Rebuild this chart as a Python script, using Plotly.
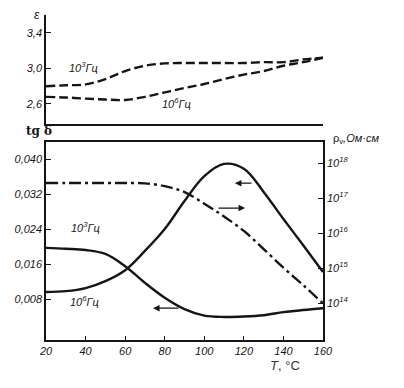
import plotly.graph_objects as go

# ---- data ----
T = [20, 30, 40, 50, 60, 70, 80, 90, 100, 110, 120, 130, 140, 150, 160]

eps_1e3 = [2.80, 2.81, 2.82, 2.88, 2.97, 3.03, 3.056, 3.06, 3.06, 3.06, 3.06, 3.07, 3.07, 3.10, 3.12]
eps_1e6 = [2.68, 2.673, 2.66, 2.65, 2.645, 2.68, 2.73, 2.78, 2.825, 2.88, 2.93, 2.97, 3.03, 3.07, 3.12]

tg_1e3 = [0.0197, 0.0195, 0.0192, 0.0183, 0.0155, 0.0117, 0.0083, 0.0057, 0.0042, 0.0039, 0.0040, 0.0043, 0.0050, 0.0055, 0.0059]
tg_1e6 = [0.0096, 0.0098, 0.0105, 0.0121, 0.0146, 0.0190, 0.0240, 0.0304, 0.0361, 0.0389, 0.0378, 0.0325, 0.0263, 0.0203, 0.0142]

log_rho = [17.43, 17.43, 17.43, 17.43, 17.43, 17.42, 17.34, 17.17, 16.84, 16.47, 16.06, 15.54, 15.01, 14.51, 13.99]
rho = [10 ** v for v in log_rho]

eps_ticks = [2.6, 3.0, 3.4]
eps_labels = ["2,6", "3,0", "3,4"]
tg_ticks = [0.008, 0.016, 0.024, 0.032, 0.040]
tg_labels = ["0,008", "0,016", "0,024", "0,032", "0,040"]
rho_ticks = [1e14, 1e15, 1e16, 1e17, 1e18]
rho_labels = ["10<sup>14</sup>", "10<sup>15</sup>", "10<sup>16</sup>", "10<sup>17</sup>", "10<sup>18</sup>"]
T_ticks = [20, 40, 60, 80, 100, 120, 140, 160]

INK = "#151515"
FONT = "Liberation Sans"
W = 2.4

fig = go.Figure()
fig.add_trace(go.Scatter(x=T, y=eps_1e3, xaxis="x2", yaxis="y3", mode="lines",
                         line=dict(color=INK, width=W, dash="9px,4px", shape="spline")))
fig.add_trace(go.Scatter(x=T, y=eps_1e6, xaxis="x2", yaxis="y3", mode="lines",
                         line=dict(color=INK, width=W, dash="9px,4px", shape="spline")))
fig.add_trace(go.Scatter(x=T, y=tg_1e3, xaxis="x", yaxis="y", mode="lines",
                         line=dict(color=INK, width=W, shape="spline")))
fig.add_trace(go.Scatter(x=T, y=tg_1e6, xaxis="x", yaxis="y", mode="lines",
                         line=dict(color=INK, width=W, shape="spline")))
fig.add_trace(go.Scatter(x=T, y=rho, xaxis="x", yaxis="y2", mode="lines",
                         line=dict(color=INK, width=W, dash="12px,4px,3px,4px", shape="spline")))

tickfont = dict(family=FONT, size=11, color=INK)

# the page body adds an 8px offset, so the figure is sized to fit the 404x388 window
fig.update_layout(
    width=396, height=380,
    margin=dict(l=38, r=81, t=7, b=48),
    paper_bgcolor="white", plot_bgcolor="white",
    showlegend=False,
    xaxis=dict(domain=[0, 1], anchor="y", range=[20, 160], tickvals=T_ticks,
               ticktext=[f"<i>{v}</i>" for v in T_ticks],
               ticks="inside", ticklen=4, tickcolor=INK, showline=True, linecolor=INK,
               linewidth=1.5, mirror=True, showgrid=False, zeroline=False, tickfont=tickfont),
    xaxis2=dict(domain=[0, 1], anchor="y3", matches="x", range=[20, 160], showticklabels=False,
                ticks="", showline=True, linecolor=INK, linewidth=1.5, showgrid=False, zeroline=False),
    yaxis=dict(domain=[0, 0.609], anchor="x", range=[-0.00137, 0.04389], tickvals=tg_ticks,
               ticktext=[f"<i>{s}</i>" for s in tg_labels], ticks="inside", ticklen=5,
               tickcolor=INK, showline=True, linecolor=INK, linewidth=1.5, showgrid=False,
               zeroline=False, tickfont=tickfont),
    yaxis2=dict(overlaying="y", side="right", anchor="x", type="log", range=[12.943, 18.6],
                tickvals=rho_ticks, ticktext=[f"<i>{s}</i>" for s in rho_labels], ticks="inside",
                ticklen=5, tickcolor=INK, showline=True, linecolor=INK, linewidth=1.5,
                showgrid=False, zeroline=False, tickfont=tickfont),
    yaxis3=dict(domain=[0.6646, 1], anchor="x2", range=[2.375, 3.6], tickvals=eps_ticks,
                ticktext=[f"<i>{s}</i>" for s in eps_labels], ticks="inside", ticklen=5,
                tickcolor=INK, showline=True, linecolor=INK, linewidth=1.5, showgrid=False,
                zeroline=False, tickfont=tickfont),
)

lab = dict(family=FONT, size=11, color=INK)
ann = [
    dict(x=38.7, y=3.02, xref="x2", yref="y3", text="<i>10<sup>3</sup>Гц</i>", showarrow=False, font=lab),
    dict(x=86, y=2.61, xref="x2", yref="y3", text="<i>10<sup>6</sup>Гц</i>", showarrow=False, font=lab),
    dict(x=40.2, y=0.0245, xref="x", yref="y", text="<i>10<sup>3</sup>Гц</i>", showarrow=False, font=lab),
    dict(x=39.7, y=0.0075, xref="x", yref="y", text="<i>10<sup>6</sup>Гц</i>", showarrow=False, font=lab),
    # arrows
    dict(x=115.5, y=0.0345, xref="x", yref="y", ax=18, ay=0, text="", showarrow=True,
         arrowhead=2, arrowsize=1, arrowwidth=1.3, arrowcolor=INK),
    dict(x=120.6, y=0.0288, xref="x", yref="y", ax=-28, ay=0, text="", showarrow=True,
         arrowhead=2, arrowsize=1, arrowwidth=1.3, arrowcolor=INK),
    dict(x=74.1, y=0.0059, xref="x", yref="y", ax=27, ay=0, text="", showarrow=True,
         arrowhead=2, arrowsize=1, arrowwidth=1.3, arrowcolor=INK),
    # axis titles
    dict(x=-0.05, y=1.0, xref="paper", yref="paper", yanchor="middle", text="<i>ε</i>",
         showarrow=False, font=dict(family=FONT, size=12, color=INK)),
    dict(x=-0.079, y=0.644, xref="paper", yref="paper", text="<b>tg δ</b>", showarrow=False,
         font=dict(family="DejaVu Serif", size=12, color=INK)),
    dict(x=1.03, y=0.618, xref="paper", yref="paper", xanchor="left",
         text="ρ<sub>v</sub><i>,Ом·см</i>", showarrow=False, font=dict(family=FONT, size=11, color=INK)),
    dict(x=0.80, y=-0.108, xref="paper", yref="paper", xanchor="left", text="<i>T</i>, °C",
         showarrow=False, font=dict(family=FONT, size=13, color="#333")),
]
fig.update_layout(annotations=ann)

fig.write_html("out.html")
